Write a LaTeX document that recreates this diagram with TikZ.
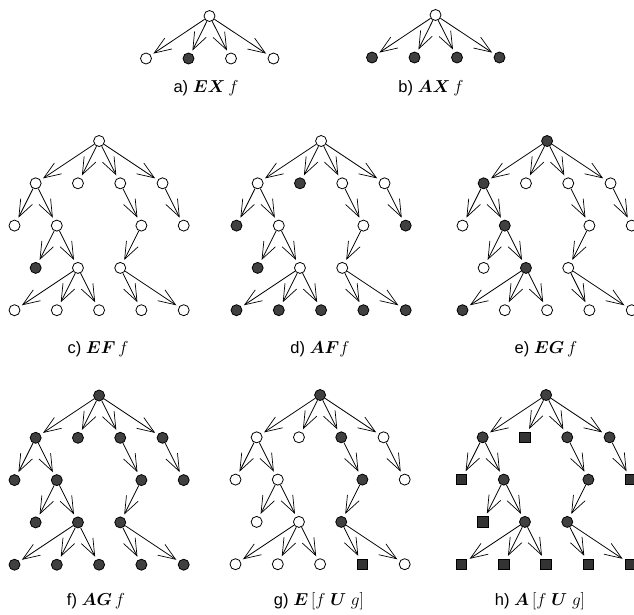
\documentclass[tikz,border=0pt]{standalone}
\usepackage{fontspec}
\usepackage{bm}
\usetikzlibrary{arrows.meta}
\newfontfamily\labelfont{Liberation Sans}
\tikzset{
  wn/.style={circle,draw,fill=white,minimum size=11pt,inner sep=0pt,line width=0.8pt},
  bn/.style={wn,fill=black!75},
  sq/.style={rectangle,draw,fill=black!80,minimum size=10.5pt,inner sep=0pt,line width=0.8pt},
  arr/.style={-{Straight Barb[length=17pt,width=13pt,line width=0.7pt]},line width=0.8pt,shorten >=3pt},
  lab/.style={font=\fontsize{16.5}{19}\selectfont,inner sep=0pt}
}
\def\tdx{42.3}
\def\tdy{42.3}
\newcommand\bigtree[4]{%
  \foreach \s [count=\i] in {#4} {\expandafter\xdef\csname treest\i\endcsname{\s}}
  \foreach \px/\py [count=\i] in {2/0,0.5/1,1.5/1,2.5/1,3.5/1,0/2,1/2,3/2,4/2,0.5/3,1.5/3,2.5/3,0/4,1/4,2/4,3/4,4/4} {
    \edef\curst{\csname treest\i\endcsname}
    \edef\tmp{\noexpand\node[\curst] (#1\i) at (#2+\px*\tdx,#3+\py*\tdy) {};}\tmp
  }
  \foreach \u/\v in {1/2,1/3,1/4,1/5,2/6,2/7,4/8,5/9,7/10,7/11,8/12,11/13,11/14,11/15,12/16,12/17}
    \draw[arr] (#1\u) -- (#1\v);
}
\begin{document}
\begin{tikzpicture}[x=1pt,y=-1pt]
\useasboundingbox (0,0) rectangle (634,614);
% a) EX f
\node[wn] (ar) at (209.5,16) {};
\node[wn] (a1) at (146,58.5) {};
\node[bn] (a2) at (188.5,58.5) {};
\node[wn] (a3) at (231,58.5) {};
\node[wn] (a4) at (273.5,58.5) {};
\foreach \k in {1,2,3,4} \draw[arr] (ar) -- (a\k);
% b) AX f
\node[wn] (br) at (435.5,15) {};
\node[bn] (b1) at (372,57.5) {};
\node[bn] (b2) at (414.5,57.5) {};
\node[bn] (b3) at (457,57.5) {};
\node[bn] (b4) at (499.5,57.5) {};
\foreach \k in {1,2,3,4} \draw[arr] (br) -- (b\k);
% big trees
\bigtree{c}{14.5}{141}{wn,wn,wn,wn,wn,wn,wn,wn,wn,bn,wn,wn,wn,wn,wn,wn,wn}
\bigtree{d}{236.5}{141}{wn,wn,bn,wn,wn,bn,wn,wn,bn,bn,wn,wn,bn,bn,bn,bn,bn}
\bigtree{e}{462.5}{141}{bn,bn,wn,wn,wn,wn,bn,wn,wn,wn,bn,wn,bn,wn,wn,wn,wn}
\bigtree{f}{14.5}{395.5}{bn,bn,bn,bn,bn,bn,bn,bn,bn,bn,bn,bn,bn,bn,bn,bn,bn}
\bigtree{g}{235.5}{395}{bn,wn,wn,bn,wn,wn,wn,bn,wn,wn,wn,bn,wn,wn,wn,sq,wn}
\bigtree{h}{461.5}{395}{bn,bn,sq,bn,bn,sq,bn,bn,sq,sq,bn,bn,sq,sq,sq,sq,sq}
% labels
\node[lab] (la) at (206,88) {\labelfont a)\ $\bm{E}\bm{X}\,f$};
\node[lab] (lb) at (431,88) {\labelfont b)\ $\bm{A}\bm{X}\,f$};
\node[lab] (lc) at (98,349) {\labelfont c)\ $\bm{E}\bm{F}\,f$};
\node[lab] (ld) at (320,349) {\labelfont d)\ $\bm{A}\bm{F}f$};
\node[lab] (le) at (546,349) {\labelfont e)\ $\bm{E}\bm{G}\,f$};
\node[lab] (lf) at (96,601) {\labelfont f)\ $\bm{A}\bm{G}\,f$};
\node[lab] (lg) at (319,601) {\labelfont g)\ $\bm{E}\,[f\;\bm{U}\;g]$};
\node[lab] (lh) at (540,601) {\labelfont h)\ $\bm{A}\,[f\;\bm{U}\;g]$};
\end{tikzpicture}
\end{document}
